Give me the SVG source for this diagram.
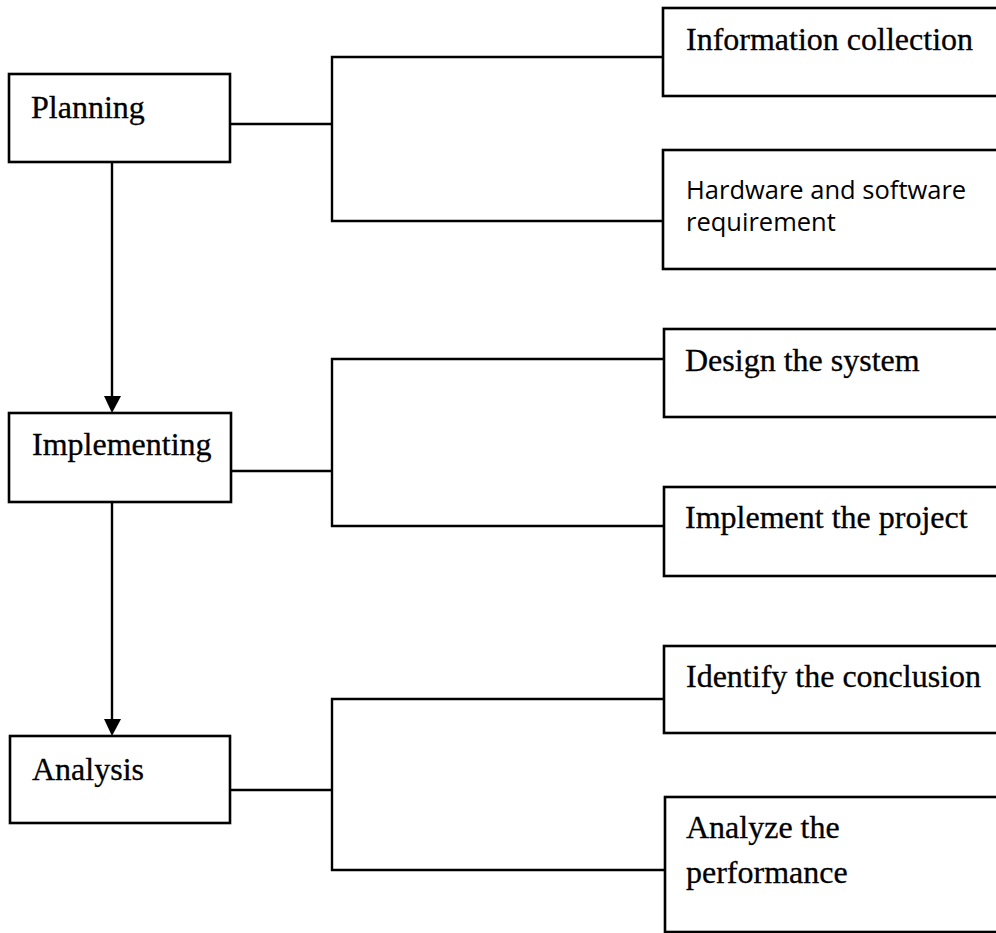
<svg xmlns="http://www.w3.org/2000/svg" width="996" height="933" viewBox="0 0 996 933">
  <style>
    .box { fill: #ffffff; stroke: #000000; stroke-width: 2.6; }
    .wire { fill: none; stroke: #000000; stroke-width: 2.4; }
    .head { fill: #000000; }
    .serif { font-family: "Liberation Serif", "Times New Roman", serif; font-size: 32px; fill: #000000; stroke: #000000; stroke-width: 0.3; }
    .sans { font-family: "Open Sans", "Noto Sans", sans-serif; font-size: 25.5px; fill: #000000; }
  </style>
  <rect x="0" y="0" width="996" height="933" fill="#ffffff"/>

  <!-- connectors -->
  <g id="connectors">
    <!-- main flow -->
    <line class="wire" x1="112" y1="162" x2="112" y2="397"/>
    <polygon class="head" points="104,396 121,396 112,413"/>
    <line class="wire" x1="112" y1="502" x2="112" y2="720"/>
    <polygon class="head" points="104,719 121,719 112,736"/>
    <!-- Planning branch -->
    <polyline class="wire" points="230,124 332,124"/>
    <polyline class="wire" points="663,57 332,57 332,221 663,221"/>
    <!-- Implementing branch -->
    <polyline class="wire" points="231,471 332,471"/>
    <polyline class="wire" points="664,359 332,359 332,526 664,526"/>
    <!-- Analysis branch -->
    <polyline class="wire" points="230,790 332,790"/>
    <polyline class="wire" points="664,699 332,699 332,870 664,870"/>
  </g>

  <!-- phase nodes -->
  <g id="planning">
    <rect class="box" x="9" y="74" width="221" height="88"/>
    <text class="serif" x="31" y="118">Planning</text>
  </g>
  <g id="implementing">
    <rect class="box" x="9" y="413" width="222" height="89"/>
    <text class="serif" x="32" y="455">Implementing</text>
  </g>
  <g id="analysis">
    <rect class="box" x="10" y="736" width="220" height="87"/>
    <text class="serif" x="32" y="780">Analysis</text>
  </g>

  <!-- task nodes (run past the right edge) -->
  <g id="information-collection">
    <rect class="box" x="663" y="8" width="360" height="88"/>
    <text class="serif" x="686" y="50">Information collection</text>
  </g>
  <g id="hardware-software">
    <rect class="box" x="663" y="150" width="360" height="119"/>
    <text class="sans" x="686" y="199">Hardware and software</text>
    <text class="sans" x="686" y="231">requirement</text>
  </g>
  <g id="design-system">
    <rect class="box" x="664" y="329" width="360" height="88"/>
    <text class="serif" x="685" y="371">Design the system</text>
  </g>
  <g id="implement-project">
    <rect class="box" x="664" y="487" width="360" height="89"/>
    <text class="serif" x="685" y="528">Implement the project</text>
  </g>
  <g id="identify-conclusion">
    <rect class="box" x="664" y="646" width="360" height="87"/>
    <text class="serif" x="686" y="687">Identify the conclusion</text>
  </g>
  <g id="analyze-performance">
    <rect class="box" x="665" y="797" width="360" height="135"/>
    <text class="serif" x="686" y="838">Analyze the</text>
    <text class="serif" x="686" y="883">performance</text>
  </g>
</svg>
